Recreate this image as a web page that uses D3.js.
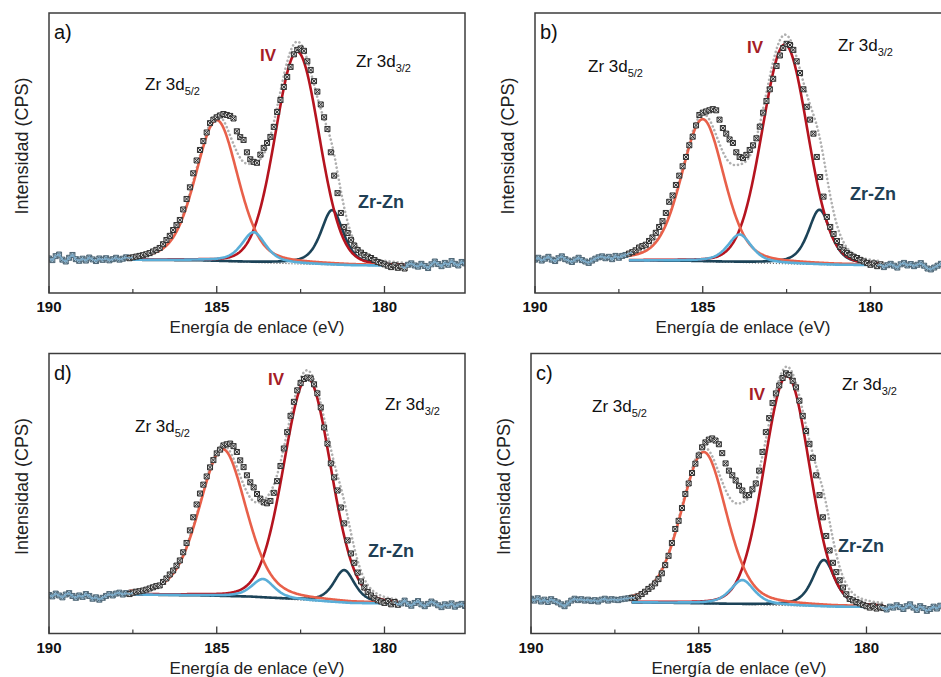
<!DOCTYPE html>
<html><head><meta charset="utf-8">
<script src="https://cdn.jsdelivr.net/npm/d3@7"></script>
<style>
html,body{margin:0;padding:0;background:#fff;}
svg{display:block;font-family:Arial,"Liberation Sans",Helvetica,sans-serif;}
</style></head><body>
<svg id="chart" width="941" height="677"></svg>
<script>
// ---------- data ----------
const energyStart = 190.0;      // eV, first sample
const energyStep = 0.1;         // eV between samples (decreasing)
const xDomain = [190, 177.6];
const yDomain = [-13.3, 106.7];
const xTicks = [190, 185, 180];
const xTickLabels = ["190", "185", "180"];
const xMinorTicks = [187.5, 182.5];
const xTitle = "Energía de enlace (eV)";
const yTitle = "Intensidad (CPS)";
const componentNames = ["Zr 3d5/2 (IV)", "Zr 3d3/2 (IV)", "Zr 3d5/2 (Zr-Zn)", "Zr 3d3/2 (Zr-Zn)"];
const componentColors = ["#e8604a", "#b5141f", "#5aaed8", "#1c4358"];

// measured intensities, 190.0 -> 177.6 eV
const intensity_a = [
1.5, 0.8, 2.5, 3.2, 1.0, 0.2, 1.8, 3.0, 1.2, 0.5, 1.4, 0.6, 1.9, 1.1, 0.4, 1.5, 0.9, 1.6, 0.7, 1.2, 1.8, 1.0, 1.4, 2.0, 1.6,
2.0, 2.3, 2.6, 2.9, 3.3, 3.8, 4.5, 5.2, 6.0, 7.6,
9.4, 11.2, 13.7, 15.8, 18.0, 22.5, 27.0, 32.0, 38.0, 43.5,
48.0, 51.8, 55.5, 59.5, 61.0, 62.0, 62.8, 63.4, 63.0, 62.6,
61.5, 56.0, 53.5, 52.3, 47.0, 44.0, 42.9, 42.5, 46.0, 48.9,
51.0, 53.6, 57.9, 64.3, 69.4, 75.0, 79.3, 83.6, 89.0, 90.9,
91.5, 90.5, 86.0, 82.3, 77.5, 73.0, 67.5, 62.0, 57.0, 47.0,
37.0, 29.5, 21.0, 15.0, 12.4, 9.5, 7.0, 5.1, 4.0, 3.0,
2.3, 1.7, 0.8, 0.0,
-0.5, -1.0, -1.6, -2.2, -1.4, -2.5, -1.8, -2.8, -1.2, -0.6, -1.5, -2.0, -0.8, -1.7, -2.6, -1.0, 0.2, -0.9, -1.8, -0.4, -1.2, 0.4, -0.8, -1.5, 0.0, -0.6
];
const intensity_b = [
1.0, 1.8, 0.6, 1.4, 2.2, 1.0, 0.4, 1.6, 2.4, 1.2, 0.6, 0.0, 1.0, 1.8, 0.8, 0.2, -0.4, 0.6, 1.4, 2.0, 2.4, 1.6, 2.2, 1.2, 2.6,
1.8, 2.6, 3.0, 3.6, 4.2, 5.0, 6.2, 6.8, 7.4, 9.0,
10.5, 12.5, 15.0, 17.5, 21.0, 25.8, 28.5, 33.0, 37.0, 41.0,
45.0, 50.0, 53.7, 58.5, 63.0, 64.0, 64.5, 65.0, 65.5, 65.0,
61.0, 57.4, 55.0, 52.5, 51.0, 47.0, 45.0, 44.5, 45.9, 48.0,
50.0, 53.0, 58.0, 64.0, 69.0, 74.0, 78.5, 84.0, 88.5, 91.7,
93.5, 93.0, 90.9, 86.0, 81.0, 74.0, 66.5, 61.0, 55.0, 45.0,
36.4, 28.0, 19.3, 15.0, 12.0, 9.0, 6.4, 5.0, 3.8, 3.0,
2.2, 1.7, 0.8, 0.2,
-0.4, -1.2, -0.6, -1.8, -1.0, -2.2, -1.4, -0.8, -1.6, -2.4, -1.0, -0.4, -1.5, -0.9, -1.8, -1.2, -0.5, -1.6, -2.8, -3.2, -2.4, -1.6, -0.8, -1.4, -1.0, -0.6
];
const intensity_d = [
3.2, 2.6, 3.8, 3.0, 2.2, 3.4, 4.0, 2.8, 2.0, 3.0, 2.4, 3.6, 2.8, 1.6, 2.2, 1.2, 2.0, 2.8, 3.6, 3.0, 3.8, 4.2, 3.4, 4.0, 3.6,
4.2, 4.6, 4.8, 5.1, 5.5, 6.0, 6.5, 7.0, 7.3, 8.8,
10.3, 12.0, 13.7, 15.8, 18.0, 21.5, 25.5, 30.9, 36.5, 42.0,
46.7, 50.5, 54.0, 57.9, 61.0, 63.9, 65.5, 67.3, 67.8, 68.1,
67.0, 64.5, 60.9, 58.0, 54.5, 51.5, 49.3, 46.5, 44.5, 42.9,
42.5, 43.5, 47.0, 52.0, 58.5, 66.0, 73.0, 80.0, 86.0, 90.9,
94.0, 95.8, 96.4, 96.0, 93.5, 89.6, 83.6, 75.0, 68.1, 59.6,
53.6, 48.0, 40.7, 33.9, 26.6, 21.0, 17.0, 12.8, 9.0, 6.4,
4.5, 3.0, 1.8, 0.9,
0.4, -0.2, 0.6, -0.8, 0.2, -1.0, -0.4, 0.8, -0.6, -1.4, -0.2, 0.6, -0.8, -1.6, -0.6, 0.4, -0.4, -1.2, -2.0, -0.8, -1.4, -0.4, -1.8, -1.0, -0.6, -1.5
];
const intensity_c = [
1.6, 0.8, 1.8, 0.4, 1.2, 0.2, 1.4, 0.6, 0.0, -0.8, -1.6, -0.4, 0.8, 1.6, 1.0, 1.4, 0.8, 1.2, 0.6, 1.0, 0.4, 1.2, 1.6, 0.8, 1.4,
1.2, 1.0, 1.4, 1.6, 1.8, 2.0, 2.0, 2.6, 3.6, 4.6,
5.8, 6.8, 8.2, 10.0, 12.5, 16.0, 20.0, 25.5, 31.5, 35.0,
40.5, 46.5, 51.0, 55.5, 59.5, 63.0, 66.5, 68.6, 69.8, 70.3,
69.4, 67.8, 64.0, 59.6, 56.5, 54.5, 52.3, 50.0, 48.0, 45.9,
46.0, 48.5, 51.0, 56.5, 64.5, 73.0, 79.0, 85.5, 89.6, 93.0,
96.2, 98.2, 97.5, 95.0, 92.2, 86.5, 80.0, 73.5, 68.0, 62.0,
54.5, 46.0, 36.5, 28.5, 22.3, 17.0, 13.0, 9.5, 6.4, 3.5,
1.5, 0.9, 0.2, -0.4,
-1.0, -1.6, -2.2, -1.4, -2.6, -1.8, -2.4, -3.0, -1.8, -2.2, -1.2, -2.0, -2.8, -1.6, -0.8, -2.2, -3.2, -1.6, -2.4, -3.6, -2.8, -1.8, -2.6, -1.4, -2.0, -2.6
];

// fitted components: [3d5/2 IV, 3d3/2 IV, 3d5/2 Zr-Zn, 3d3/2 Zr-Zn]
const centers_a = [185.0, 182.6, 183.9, 181.56];
const heights_a = [60.5, 91, 13, 23.5];
const fwhm_a    = [1.5, 1.55, 0.85, 0.8];
const centers_b = [185.0, 182.55, 183.9, 181.52];
const heights_b = [61, 94, 12, 23.5];
const fwhm_b    = [1.5, 1.6, 0.85, 0.8];
const centers_d = [184.82, 182.3, 183.62, 181.2];
const heights_d = [63, 95.5, 8, 14];
const fwhm_d    = [1.65, 1.65, 0.8, 0.75];
const centers_c = [184.85, 182.37, 183.7, 181.27];
const heights_c = [65, 98.5, 10.5, 20];
const fwhm_c    = [1.6, 1.6, 0.85, 0.8];
const lorentzFraction = [0.3, 0.1, 0.6, 0.6];

// Shirley-type background (energy, intensity) and fit window
const bgEnergy_a = [187.6, 185.5, 184.0, 182.5, 181.0, 179.4];
const bgInt_a    = [0.9, 0.6, -0.2, -0.9, -1.5, -1.7];
const bgEnergy_b = [187.2, 185.5, 184.0, 182.5, 181.0, 179.7];
const bgInt_b    = [0.6, 0.4, -0.2, -0.8, -1.3, -1.4];
const bgEnergy_d = [187.6, 185.5, 184.0, 182.5, 181.0, 179.6];
const bgInt_d    = [3.4, 3.0, 2.4, 1.0, -0.3, -0.5];
const bgEnergy_c = [187.0, 185.5, 184.0, 182.5, 181.0, 179.5];
const bgInt_c    = [0.0, -0.3, -0.8, -1.3, -1.9, -2.0];

// ---------- layout ----------
const W = 416, H = 280;
const panels = [
  {letter:"a)", left:49,  top:13,    I:intensity_a, c:centers_a, h:heights_a, f:fwhm_a, bgE:bgEnergy_a, bgI:bgInt_a,
   lab:{z52:[96,77], iv:[211,48], z32:[307,54], zn:[309,195]}},
  {letter:"b)", left:535, top:13,    I:intensity_b, c:centers_b, h:heights_b, f:fwhm_b, bgE:bgEnergy_b, bgI:bgInt_b,
   lab:{z52:[53,59], iv:[212,40], z32:[303,38], zn:[315,187]}},
  {letter:"d)", left:49,  top:353.5, I:intensity_d, c:centers_d, h:heights_d, f:fwhm_d, bgE:bgEnergy_d, bgI:bgInt_d,
   lab:{z52:[86,78], iv:[219,31], z32:[336,56], zn:[319,203]}},
  {letter:"c)", left:531, top:353.5, I:intensity_c, c:centers_c, h:heights_c, f:fwhm_c, bgE:bgEnergy_c, bgI:bgInt_c,
   lab:{z52:[61,58], iv:[218,46], z32:[311,36], zn:[307,198]}}
];

const svg = d3.select("#chart");

function peak(e, c, h, f, eta) {
  const q = (e - c) * (e - c) / (f * f);
  return h * (eta / (1 + 4 * q) + (1 - eta) * Math.exp(-4 * Math.LN2 * q));
}

const markerPath = "M-2.5,-2.5h5v5h-5zM-2.5,-2.5L2.5,2.5M2.5,-2.5L-2.5,2.5";

panels.forEach(p => {
  const x = d3.scaleLinear().domain(xDomain).range([p.left, p.left + W]);
  const y = d3.scaleLinear().domain(yDomain).range([p.top + H, p.top]);
  const g = svg.append("g");

  const clipId = "clip" + p.letter[0];
  svg.append("clipPath").attr("id", clipId).append("rect")
    .attr("x", p.left).attr("y", p.top).attr("width", W).attr("height", H);
  const plot = g.append("g").attr("clip-path", `url(#${clipId})`);

  const pts = p.I.map((v, i) => ({e: +(energyStart - i * energyStep).toFixed(2), v}));
  const fitHi = d3.max(p.bgE), fitLo = d3.min(p.bgE);
  const bg = d3.scaleLinear().domain(p.bgE).range(p.bgI).clamp(true);

  const grid = d3.range(Math.round((fitHi - fitLo) / 0.02) + 1).map(k => fitHi - k * 0.02);
  const line = d3.line().x(d => x(d[0])).y(d => y(d[1])).curve(d3.curveLinear);

  // envelope (sum of components + background), grey dotted
  const env = grid.map(e => [e, bg(e) + p.c.reduce((s, c, j) => s + peak(e, c, p.h[j], p.f[j], lorentzFraction[j]), 0)]);
  plot.append("path").attr("d", line(env)).attr("fill", "none")
    .attr("stroke", "#b0b0b0").attr("stroke-width", 2.6)
    .attr("stroke-dasharray", "0.1,4").attr("stroke-linecap", "round");

  // dark dotted background
  plot.append("path").attr("d", line(grid.map(e => [e, bg(e)]))).attr("fill", "none")
    .attr("stroke", "#333").attr("stroke-width", 1).attr("stroke-dasharray", "1,2");

  // components
  [3, 1, 0, 2].forEach(j => {
    const pts2 = grid.map(e => [e, bg(e) + peak(e, p.c[j], p.h[j], p.f[j], lorentzFraction[j])]);
    plot.append("path").attr("d", line(pts2)).attr("fill", "none")
      .attr("stroke", componentColors[j]).attr("stroke-width", 2.6)
      .attr("stroke-linejoin", "round");
  });

  // data markers
  const outer = d => (d.e > fitHi + 0.05 || d.e < fitLo - 0.05);
  plot.append("g").selectAll("path").data(pts).join("path")
    .attr("d", markerPath)
    .attr("transform", d => `translate(${x(d.e)},${y(d.v)})`)
    .attr("fill", d => outer(d) ? "#9fbdd0" : "#d9d9d9")
    .attr("stroke", d => outer(d) ? "#4e6675" : "#2e2e2e")
    .attr("stroke-width", 1);

  // light-blue line through the data outside the fit window
  const dl = d3.line().x(d => x(d.e)).y(d => y(d.v));
  const leftPts = pts.filter(d => d.e >= fitHi - 0.15);
  const rightPts = pts.filter(d => d.e <= fitLo + 0.15);
  [leftPts, rightPts].forEach(seg => {
    plot.append("path").attr("d", dl(seg)).attr("fill", "none")
      .attr("stroke", "#7fb3d3").attr("stroke-width", 1.6).attr("opacity", 0.85);
  });

  // frame
  g.append("rect").attr("x", p.left).attr("y", p.top).attr("width", W).attr("height", H)
    .attr("fill", "none").attr("stroke", "#3c3c3c").attr("stroke-width", 1.5);

  // ticks
  const by = p.top + H;
  xTicks.forEach((t, i) => {
    g.append("line").attr("x1", x(t)).attr("x2", x(t)).attr("y1", by).attr("y2", by - 7)
      .attr("stroke", "#3c3c3c").attr("stroke-width", 1.3);
    g.append("text").attr("x", x(t)).attr("y", by + 19).attr("text-anchor", "middle")
      .attr("font-size", 15).attr("font-weight", "bold").attr("fill", "#111").text(xTickLabels[i]);
  });
  xMinorTicks.forEach(t => {
    g.append("line").attr("x1", x(t)).attr("x2", x(t)).attr("y1", by).attr("y2", by - 4)
      .attr("stroke", "#3c3c3c").attr("stroke-width", 1.2);
  });

  // axis titles
  g.append("text").attr("x", p.left + W / 2).attr("y", by + 40).attr("text-anchor", "middle")
    .attr("font-size", 17).attr("fill", "#222").text(xTitle);
  g.append("text").attr("transform", `translate(${p.left - 21},${p.top + 133}) rotate(-90)`)
    .attr("text-anchor", "middle").attr("font-size", 18).attr("fill", "#222").text(yTitle);

  // panel letter
  g.append("text").attr("x", p.left + 5).attr("y", p.top + 26).attr("font-size", 20)
    .attr("fill", "#111").text(p.letter);

  // annotations
  function zrLabel(pos, sub) {
    const t = g.append("text").attr("x", p.left + pos[0]).attr("y", p.top + pos[1])
      .attr("font-size", 17).attr("fill", "#111");
    t.append("tspan").text("Zr 3d");
    t.append("tspan").attr("font-size", 11).attr("dy", 5).text(sub);
  }
  zrLabel(p.lab.z52, "5/2");
  zrLabel(p.lab.z32, "3/2");
  g.append("text").attr("x", p.left + p.lab.iv[0]).attr("y", p.top + p.lab.iv[1])
    .attr("font-size", 17).attr("font-weight", "bold").attr("fill", "#a51d27").text("IV");
  g.append("text").attr("x", p.left + p.lab.zn[0]).attr("y", p.top + p.lab.zn[1])
    .attr("font-size", 18).attr("font-weight", "bold").attr("fill", "#213f55").text("Zr-Zn");
});
</script>
</body></html>
